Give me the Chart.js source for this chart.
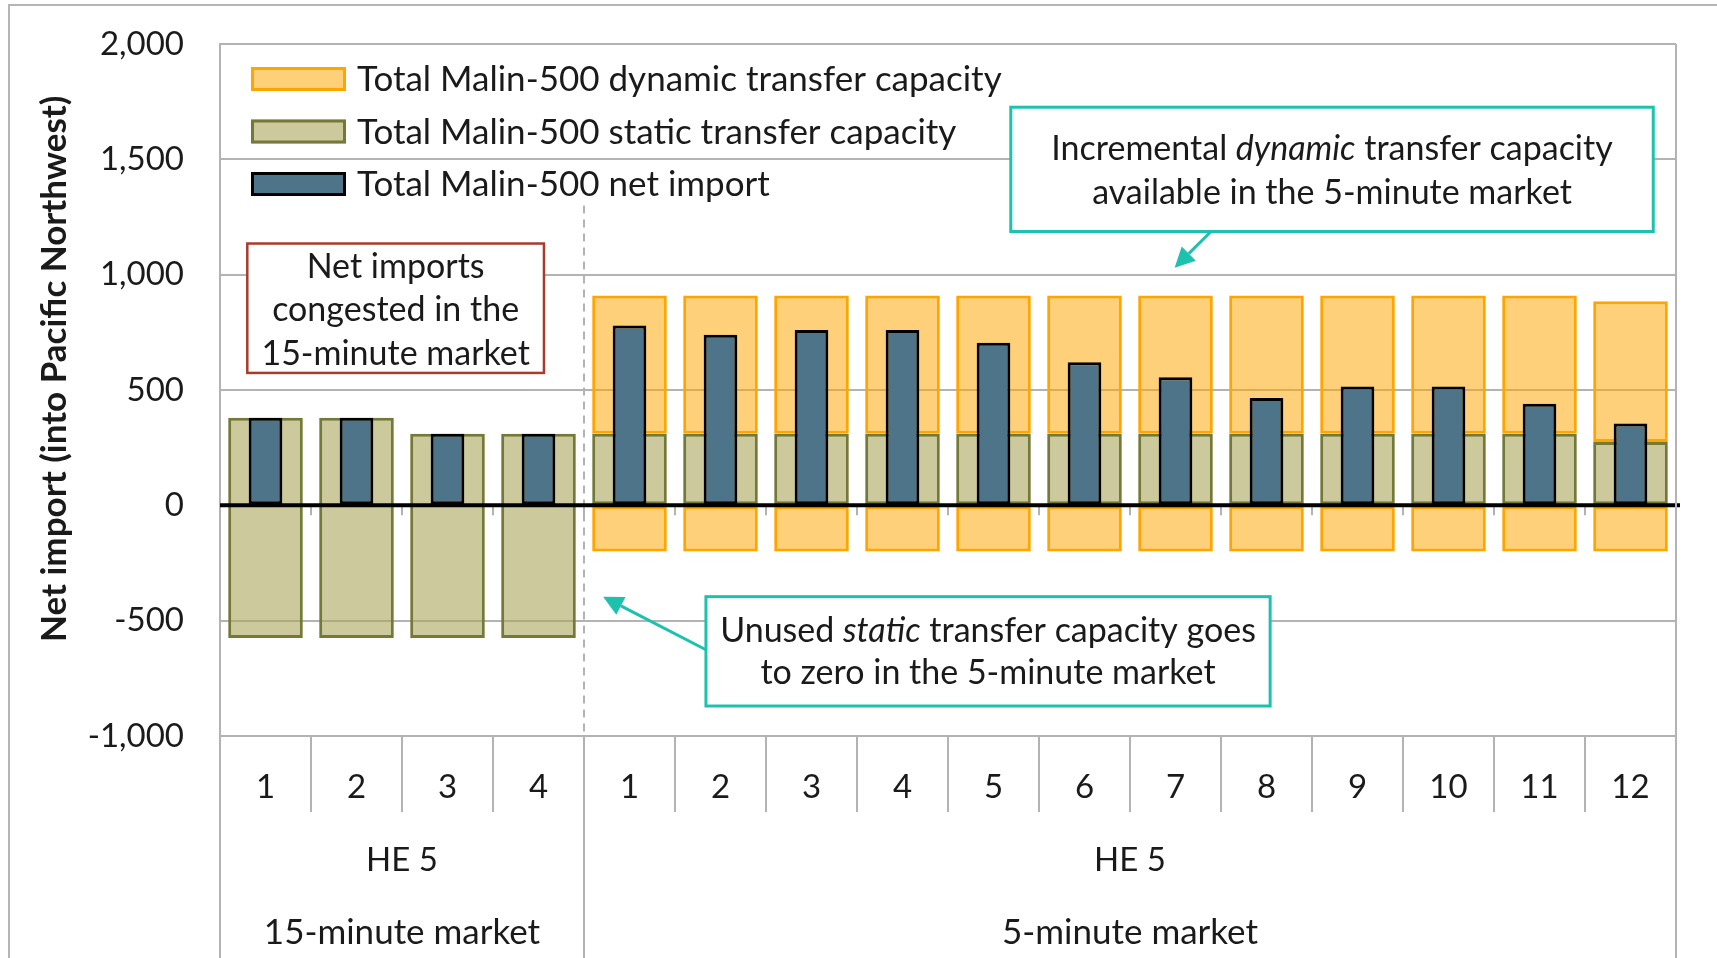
<!DOCTYPE html>
<html>
<head>
<meta charset="utf-8">
<script src="https://cdn.jsdelivr.net/npm/chart.js@4.4.1/dist/chart.umd.min.js"></script>
<style>
  html, body { margin: 0; padding: 0; background: #fff; }
  #wrap { position: relative; width: 1717px; height: 958px; }
</style>
</head>
<body>
<div id="wrap"><canvas id="myChart"></canvas></div>
<script>
(function () {
  "use strict";

  // categories: 4 intervals of the 15-minute market, 12 of the 5-minute market
  var categories = ["1", "2", "3", "4", "1", "2", "3", "4", "5", "6", "7", "8", "9", "10", "11", "12"];
  var groupSizes = [4, 12];
  var hourLabels = ["HE 5", "HE 5"];
  var marketLabels = ["15-minute market", "5-minute market"];

  // MW values
  var staticLow = [-575, -575, -575, -575, 0, 0, 0, 0, 0, 0, 0, 0, 0, 0, 0, 0];
  var staticHigh = [380, 380, 310, 310, 310, 310, 310, 310, 310, 310, 310, 310, 310, 310, 310, 275];
  var dynamicLow = [null, null, null, null, -200, -200, -200, -200, -200, -200, -200, -200, -200, -200, -200, -200];
  var dynamicHigh = [null, null, null, null, 910, 910, 910, 910, 910, 910, 910, 910, 910, 910, 910, 885];
  var netImport = [380, 380, 310, 310, 780, 740, 760, 760, 705, 620, 555, 465, 515, 515, 440, 355];

  var yTicks = [-1000, -500, 0, 500, 1000, 1500, 2000];

  var FONT = "Lato, 'Open Sans', sans-serif";
  var TEAL = "#1cc2ae";

  // floating bars built from the arrays above
  var staticBars = staticLow.map(function (lo, i) { return [lo, staticHigh[i]]; });
  var dynamicUpper = dynamicHigh.map(function (hi, i) { return hi === null ? null : [staticHigh[i], hi]; });
  var dynamicLower = dynamicLow.map(function (lo) { return lo === null ? null : [lo, 0]; });

  function barSet(label, data, fill, line, pct, order) {
    return {
      label: label,
      data: data,
      backgroundColor: fill,
      borderColor: line,
      borderWidth: 3,
      borderSkipped: false,
      barPercentage: pct,
      categoryPercentage: 1,
      order: order
    };
  }

  var dsNet = barSet("Total Malin-500 net import", netImport, "#4e7489", "#000000", 0.37, 0);
  var dsDyn = barSet("Total Malin-500 dynamic transfer capacity", dynamicUpper, "rgba(255,165,0,0.52)", "#ffa500", 0.82, 1);
  var dsDynLow = barSet("dynamic (below zero)", dynamicLower, "rgba(255,165,0,0.52)", "#ffa500", 0.82, 1);
  var dsStatic = barSet("Total Malin-500 static transfer capacity", staticBars, "rgba(170,165,90,0.6)", "#757937", 0.82, 2);

  var legendItems = [dsDyn, dsStatic, dsNet];

  function richLine(ctx, parts, cx, cy, size) {
    var widths = parts.map(function (p) {
      ctx.font = (p[1] ? "italic " : "") + size + "px " + FONT;
      return ctx.measureText(p[0]).width;
    });
    var total = widths.reduce(function (a, b) { return a + b; }, 0);
    var xx = cx - total / 2;
    ctx.textAlign = "left";
    ctx.textBaseline = "middle";
    parts.forEach(function (p, i) {
      ctx.font = (p[1] ? "italic " : "") + size + "px " + FONT;
      ctx.fillText(p[0], xx, cy);
      xx += widths[i];
    });
  }

  function arrow(ctx, x1, y1, x2, y2) {
    var ang = Math.atan2(y2 - y1, x2 - x1);
    var len = 20, half = 10;
    var bx = x2 - len * Math.cos(ang), by = y2 - len * Math.sin(ang);
    ctx.strokeStyle = TEAL;
    ctx.lineWidth = 3;
    ctx.beginPath();
    ctx.moveTo(x1, y1);
    ctx.lineTo(bx, by);
    ctx.stroke();
    ctx.fillStyle = TEAL;
    ctx.beginPath();
    ctx.moveTo(x2, y2);
    ctx.lineTo(bx + half * Math.sin(ang), by - half * Math.cos(ang));
    ctx.lineTo(bx - half * Math.sin(ang), by + half * Math.cos(ang));
    ctx.closePath();
    ctx.fill();
  }

  function box(ctx, l, t, r, b, color, width) {
    ctx.fillStyle = "#ffffff";
    ctx.fillRect(l, t, r - l, b - t);
    ctx.strokeStyle = color;
    ctx.lineWidth = width;
    ctx.strokeRect(l, t, r - l, b - t);
  }

  var decorations = {
    id: "decorations",
    beforeDraw: function (chart) {
      var ctx = chart.ctx;
      ctx.save();
      ctx.strokeStyle = "#b5b5b5";
      ctx.lineWidth = 2;
      ctx.strokeRect(9, 5, 1730, 1000);
      ctx.restore();
    },
    beforeDatasetsDraw: function (chart) {
      var ctx = chart.ctx, x = chart.scales.x, y = chart.scales.y, area = chart.chartArea;
      var cw = x.getPixelForValue(1) - x.getPixelForValue(0);
      var y0 = y.getPixelForValue(0);
      ctx.save();
      // small tick marks under the zero line
      ctx.strokeStyle = "#b3b3b3";
      ctx.lineWidth = 2;
      for (var i = 0; i < categories.length - 1; i++) {
        var bx = x.getPixelForValue(i) + cw / 2;
        ctx.beginPath();
        ctx.moveTo(bx, y0);
        ctx.lineTo(bx, y0 + 10);
        ctx.stroke();
      }
      // dashed divider between the two markets
      var dx = x.getPixelForValue(groupSizes[0] - 1) + cw / 2;
      ctx.setLineDash([8, 6]);
      ctx.beginPath();
      ctx.moveTo(dx, y.getPixelForValue(1300));
      ctx.lineTo(dx, area.bottom);
      ctx.stroke();
      ctx.restore();
    },
    afterDatasetsDraw: function (chart) {
      var ctx = chart.ctx, x = chart.scales.x, y = chart.scales.y, area = chart.chartArea;
      var cw = x.getPixelForValue(1) - x.getPixelForValue(0);
      var x0 = x.getPixelForValue(0);
      function px(c) { return x0 + c * cw; }
      var H = chart.height;
      ctx.save();

      // zero line on top of the bars
      var y0 = y.getPixelForValue(0);
      ctx.strokeStyle = "#000";
      ctx.lineWidth = 4;
      ctx.beginPath();
      ctx.moveTo(area.left, y0);
      ctx.lineTo(area.right + 4, y0);
      ctx.stroke();

      // right edge of plot and long group separators
      ctx.strokeStyle = "#b3b3b3";
      ctx.lineWidth = 2;
      ctx.beginPath();
      ctx.moveTo(area.right, area.top);
      ctx.lineTo(area.right, H);
      ctx.moveTo(area.left, area.bottom);
      ctx.lineTo(area.left, H);
      var start = 0;
      groupSizes.forEach(function (n) {
        var bx = px(start + n - 0.5);
        ctx.moveTo(bx, area.bottom);
        ctx.lineTo(bx, H);
        start += n;
      });
      ctx.stroke();

      // group labels
      ctx.fillStyle = "#1a1a1a";
      ctx.textAlign = "center";
      ctx.textBaseline = "middle";
      start = 0;
      groupSizes.forEach(function (n, g) {
        var cx = (px(start - 0.5) + px(start + n - 0.5)) / 2;
        ctx.font = "33px " + FONT;
        ctx.fillText(hourLabels[g], cx, area.bottom + 124);
        ctx.font = "35px " + FONT;
        ctx.fillText(marketLabels[g], cx, area.bottom + 197);
        start += n;
      });

      // y axis title
      ctx.save();
      ctx.translate(55, y.getPixelForValue(592));
      ctx.rotate(-Math.PI / 2);
      ctx.font = "bold 35px " + FONT;
      ctx.fillText("Net import (into Pacific Northwest)", 0, 0);
      ctx.restore();

      // legend
      legendItems.forEach(function (ds, i) {
        var cy = area.top + 35 + i * 52.5;
        var lx = area.left + 31;
        ctx.fillStyle = "#ffffff";
        ctx.fillRect(lx, cy - 12, 95, 24);
        ctx.fillStyle = ds.backgroundColor;
        ctx.fillRect(lx, cy - 12, 95, 24);
        ctx.strokeStyle = ds.borderColor;
        ctx.lineWidth = 3;
        ctx.strokeRect(lx + 1.5, cy - 10.5, 92, 21);
        ctx.fillStyle = "#1a1a1a";
        ctx.font = "35px " + FONT;
        ctx.textAlign = "left";
        ctx.textBaseline = "middle";
        ctx.fillText(ds.label, lx + 106, cy + 1);
      });

      // callout: congestion in the 15-minute market
      box(ctx, px(-0.2), y.getPixelForValue(1135), px(3.06), y.getPixelForValue(574), "#a83c2c", 2.5);
      ctx.fillStyle = "#1a1a1a";
      var c1 = (px(-0.2) + px(3.06)) / 2;
      richLine(ctx, [["Net imports", false]], c1, y.getPixelForValue(1035), 34);
      richLine(ctx, [["congested in the", false]], c1, y.getPixelForValue(845), 34);
      richLine(ctx, [["15-minute market", false]], c1, y.getPixelForValue(658), 34);

      // callout: dynamic capacity
      arrow(ctx, px(10.39), y.getPixelForValue(1187), px(9.99), y.getPixelForValue(1030));
      box(ctx, px(8.19), y.getPixelForValue(1726), px(15.25), y.getPixelForValue(1187), TEAL, 3);
      ctx.fillStyle = "#1a1a1a";
      var c2 = (px(8.19) + px(15.25)) / 2;
      richLine(ctx, [["Incremental ", false], ["dynamic", true], [" transfer capacity", false]], c2, y.getPixelForValue(1543), 34);
      richLine(ctx, [["available in the 5-minute market", false]], c2, y.getPixelForValue(1352), 34);

      // callout: static capacity
      arrow(ctx, px(4.84), y.getPixelForValue(-626), px(3.71), y.getPixelForValue(-396));
      box(ctx, px(4.84), y.getPixelForValue(-396), px(11.04), y.getPixelForValue(-870), TEAL, 3);
      ctx.fillStyle = "#1a1a1a";
      var c3 = (px(4.84) + px(11.04)) / 2;
      richLine(ctx, [["Unused ", false], ["static", true], [" transfer capacity goes", false]], c3, y.getPixelForValue(-543), 34);
      richLine(ctx, [["to zero in the 5-minute market", false]], c3, y.getPixelForValue(-726), 34);

      ctx.restore();
    }
  };

  var canvas = document.getElementById("myChart");
  var ctx = canvas.getContext("2d");

  new Chart(ctx, {
    type: "bar",
    data: {
      labels: categories,
      datasets: [dsNet, dsDyn, dsDynLow, dsStatic]
    },
    options: {
      responsive: true,
      maintainAspectRatio: false,
      animation: false,
      layout: { padding: { top: 44, right: 41, left: 0, bottom: 0 } },
      plugins: {
        legend: { display: false },
        tooltip: { enabled: false }
      },
      scales: {
        x: {
          stacked: true,
          offset: true,
          grid: {
            display: true,
            drawOnChartArea: false,
            drawTicks: true,
            tickLength: 76,
            offset: true,
            color: "#b3b3b3",
            lineWidth: 2
          },
          border: { display: false },
          ticks: {
            padding: -44,
            color: "#1a1a1a",
            font: { family: FONT, size: 33 },
            maxRotation: 0,
            autoSkip: false
          },
          afterFit: function (axis) { axis.height = 222; }
        },
        y: {
          min: -1000,
          max: 2000,
          afterBuildTicks: function (axis) {
            axis.ticks = yTicks.map(function (v) { return { value: v }; });
          },
          grid: {
            drawTicks: false,
            color: "#b3b3b3",
            lineWidth: 2
          },
          border: { display: true, color: "#b3b3b3", width: 2 },
          ticks: {
            padding: 36,
            color: "#1a1a1a",
            font: { family: FONT, size: 33 },
            callback: function (v) { return v.toLocaleString("en-US"); }
          },
          afterFit: function (axis) {
            axis.width = 220;
            // the tick padding is horizontal here; keep it from pushing the plot down
            axis.paddingTop = 20;
            axis.paddingBottom = 20;
          }
        }
      }
    },
    plugins: [decorations]
  });
})();
</script>
</body>
</html>
